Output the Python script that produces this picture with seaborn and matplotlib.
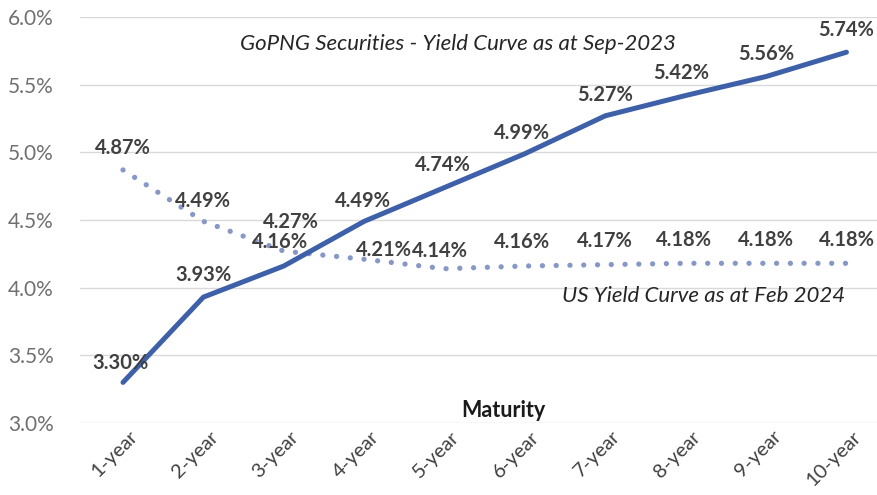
import matplotlib
matplotlib.use("Agg")
import matplotlib.pyplot as plt
import matplotlib.transforms as mtransforms
import seaborn as sns
import pandas as pd

maturities = ["1-year", "2-year", "3-year", "4-year", "5-year",
              "6-year", "7-year", "8-year", "9-year", "10-year"]
gopng = [3.30, 3.93, 4.16, 4.49, 4.74, 4.99, 5.27, 5.42, 5.56, 5.74]
us = [4.87, 4.49, 4.27, 4.21, 4.14, 4.16, 4.17, 4.18, 4.18, 4.18]
gopng_label = "GoPNG Securities - Yield Curve as at Sep-2023"
us_label = "US Yield Curve as at Feb 2024"
yticks = [3.0, 3.5, 4.0, 4.5, 5.0, 5.5, 6.0]

sns.set_theme(style="white")
plt.rcParams["font.family"] = ["Lato", "DejaVu Sans"]

df_g = pd.DataFrame({"Maturity": maturities, "Yield": gopng})
df_u = pd.DataFrame({"Maturity": maturities, "Yield": us})

fig = plt.figure(figsize=(8.77, 4.95), dpi=100)
ax = fig.add_axes([80 / 877, 1 - 423 / 495, 1 - 80 / 877, (423 - 17) / 495])

solid_c = "#3E60A8"
dot_c = "#8797C6"

sns.lineplot(data=df_u, x="Maturity", y="Yield", ax=ax, sort=False,
             color=dot_c, linewidth=3.8, legend=False)
ax.lines[-1].set_linestyle((0, (0.01, 2.6)))
ax.lines[-1].set_dash_capstyle("round")
sns.lineplot(data=df_g, x="Maturity", y="Yield", ax=ax, sort=False,
             color=solid_c, linewidth=3.6, legend=False)
ax.lines[-1].set_solid_capstyle("round")
ax.lines[-1].set_solid_joinstyle("round")

ax.set_ylim(3.0, 6.0)
ax.set_xlim(-0.535, 9.38)
ax.set_yticks(yticks)
ax.set_yticklabels([f"{v:.1f}%" for v in yticks], color="#707070", fontsize=15)
ax.yaxis.grid(True, color="#D9D9D9", linewidth=1.0)
ax.xaxis.grid(False)
for s in ax.spines.values():
    s.set_visible(False)
ax.tick_params(axis="both", length=0)
ax.tick_params(axis="y", pad=19)

ax.set_xticks(range(len(maturities)))
ax.set_xticklabels(maturities, rotation=45, ha="right", va="center",
                   rotation_mode="anchor", color="#404040", fontsize=14.5)
offset = mtransforms.ScaledTranslation(12 / 100, -6 / 100, fig.dpi_scale_trans)
for lab in ax.get_xticklabels():
    lab.set_transform(lab.get_transform() + offset)

ax.set_xlabel("")
ax.set_ylabel("")
ax.text(4.73, 3.09, "Maturity", fontsize=15.5, fontweight="bold", color="#1a1a1a",
        ha="center", va="center")

lab_kw = dict(textcoords="offset points", ha="center", va="center",
              fontsize=14.5, fontweight="bold", color="#404040")
g_off = [(-2, 14), (0, 16), (-3, 17), (-1, 15), (-1, 16), (-2, 15), (0, 15), (-3, 16), (0, 16), (0, 16)]
u_off = [(0, 16), (0, 15), (5, 21), (14, 7), (-3, 13), (-2, 17), (0, 17), (-1, 17), (0, 17), (0, 17)]
for i, (v, o) in enumerate(zip(gopng, g_off)):
    ax.annotate(f"{v:.2f}%", (i, v), xytext=o, **lab_kw)
for i, (v, o) in enumerate(zip(us, u_off)):
    ax.annotate(f"{v:.2f}%", (i, v), xytext=o, **lab_kw)

ax.text(4.17, 5.80, gopng_label, fontsize=16, style="italic", color="#262626",
        ha="center", va="center")
ax.text(8.98, 3.94, us_label, fontsize=16, style="italic", color="#262626",
        ha="right", va="center")

fig.savefig("out.png", dpi=100)
